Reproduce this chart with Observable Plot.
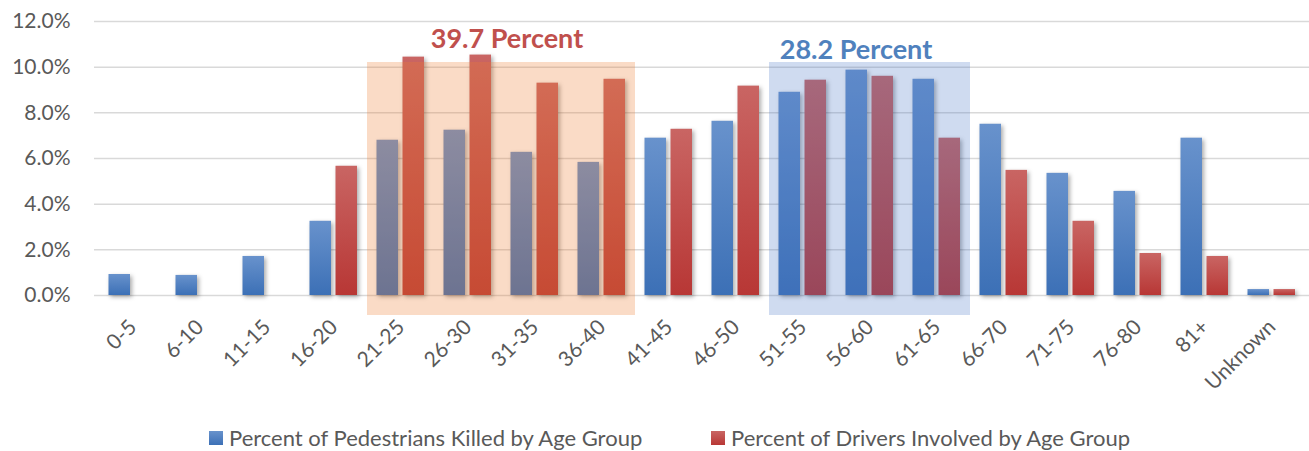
<!DOCTYPE html>
<html>
<head>
<meta charset="utf-8">
<script src="https://cdn.jsdelivr.net/npm/d3@7"></script>
<script src="https://cdn.jsdelivr.net/npm/@observablehq/plot@0.6"></script>
<style>
  html, body { margin: 0; padding: 0; background: #fff; overflow: hidden; }
  body { font-family: Lato, "Open Sans", sans-serif; }
  .bars { filter: drop-shadow(2px 2px 2px rgba(0,0,0,0.33)); }
  #legend { position: relative; height: 36px; font-size: 22px; color: #595959; }
  #legend .item { position: absolute; top: 12px; line-height: 22px; white-space: nowrap; display: flex; align-items: center; }
  #legend .sw { display: inline-block; width: 14px; height: 14px; margin-right: 6px; }
</style>
</head>
<body>
<div id="chart"></div>
<div id="legend"></div>
<script>
// ---- data ----
const ageGroups = ["0-5","6-10","11-15","16-20","21-25","26-30","31-35","36-40","41-45","46-50","51-55","56-60","61-65","66-70","71-75","76-80","81+","Unknown"];
const pedestrians = [0.92,0.88,1.71,3.25,6.80,7.24,6.27,5.83,6.89,7.63,8.90,9.87,9.47,7.50,5.35,4.56,6.89,0.26];
const drivers     = [0,0,0,5.66,10.44,10.53,9.30,9.47,7.28,9.17,9.43,9.60,6.89,5.48,3.25,1.84,1.71,0.26];
const seriesNames = ["Percent of Pedestrians Killed by Age Group", "Percent of Drivers Involved by Age Group"];
const yTicks = [0, 2, 4, 6, 8, 10, 12];
const driverHighlight = ["21-25","26-30","31-35","36-40"];
const pedestrianHighlight = ["51-55","56-60","61-65"];
const highlightRange = [-0.88, 10.22];
const annotations = [
  {label: "39.7 Percent", group: "26-30", value: 10.85},
  {label: "28.2 Percent", group: "56-60", value: 10.37}
];

const pedRows = ageGroups.map((g, i) => ({group: g, value: pedestrians[i]})).filter(d => d.value > 0);
const drvRows = ageGroups.map((g, i) => ({group: g, value: drivers[i]})).filter(d => d.value > 0);

const W = 1309, H = 415;

const defs = () => {
  const ns = "http://www.w3.org/2000/svg";
  const d = document.createElementNS(ns, "defs");
  const mk = (id, top, bottom) => {
    const lg = document.createElementNS(ns, "linearGradient");
    lg.setAttribute("id", id);
    lg.setAttribute("x1", "0"); lg.setAttribute("y1", "0");
    lg.setAttribute("x2", "0"); lg.setAttribute("y2", "1");
    [[0, top], [1, bottom]].forEach(([o, c]) => {
      const s = document.createElementNS(ns, "stop");
      s.setAttribute("offset", o);
      s.setAttribute("stop-color", c);
      lg.appendChild(s);
    });
    d.appendChild(lg);
  };
  mk("gradBlue", "#6892cc", "#3c70b6");
  mk("gradRed", "#c96563", "#b83735");
  return d;
};

const chart = Plot.plot({
  width: W,
  height: H,
  marginLeft: 94,
  marginRight: 0,
  marginTop: 21,
  marginBottom: H - 295,
  style: {fontFamily: "Lato, 'Open Sans', sans-serif", color: "#595959", background: "#fff"},
  x: {domain: ageGroups, padding: 0, axis: null, label: null},
  y: {domain: [0, 12], axis: null, label: null},
  marks: [
    defs,
    Plot.gridY(yTicks, {stroke: "#d9d9d9", strokeOpacity: 1, strokeWidth: 1.5}),
    Plot.axisY(yTicks, {tickSize: 0, tickPadding: 24, tickFormat: d => d.toFixed(1) + "%", fontSize: 21, fill: "#595959", label: null}),
    Plot.axisX({tickSize: 0, tickPadding: 28, tickRotate: -45, fontSize: 21, fill: "#595959", label: null}),
    Plot.barY(pedRows, {x: "group", y: "value", fill: "url(#gradBlue)", insetLeft: 9.5, insetRight: 36, className: "bars"}),
    Plot.barY(drvRows, {x: "group", y: "value", fill: "url(#gradRed)", insetLeft: 35.5, insetRight: 10, className: "bars"}),
    Plot.barY(driverHighlight, {x: d => d, y1: () => highlightRange[0], y2: () => highlightRange[1], fill: "#ed7d31", fillOpacity: 0.28, shapeRendering: "crispEdges"}),
    Plot.barY(pedestrianHighlight, {x: d => d, y1: () => highlightRange[0], y2: () => highlightRange[1], fill: "#4472c4", fillOpacity: 0.26, shapeRendering: "crispEdges"}),
    Plot.text([annotations[0]], {x: "group", y: "value", text: "label", dx: 39, fill: "#c0504d", fontSize: 27, fontWeight: "bold", lineAnchor: "bottom"}),
    Plot.text([annotations[1]], {x: "group", y: "value", text: "label", dx: -14, fill: "#4f81bd", fontSize: 27, fontWeight: "bold", lineAnchor: "bottom"})
  ]
});
document.getElementById("chart").appendChild(chart);

// legend
const legend = document.getElementById("legend");
const swatches = ["linear-gradient(#6892cc,#3c70b6)", "linear-gradient(#c96563,#b83735)"];
const legendLeft = [209, 711];
seriesNames.forEach((name, i) => {
  const item = document.createElement("span");
  item.className = "item";
  item.style.left = legendLeft[i] + "px";
  const sw = document.createElement("i");
  sw.className = "sw";
  sw.style.background = swatches[i];
  item.appendChild(sw);
  item.appendChild(document.createTextNode(name));
  legend.appendChild(item);
});
</script>
</body>
</html>
